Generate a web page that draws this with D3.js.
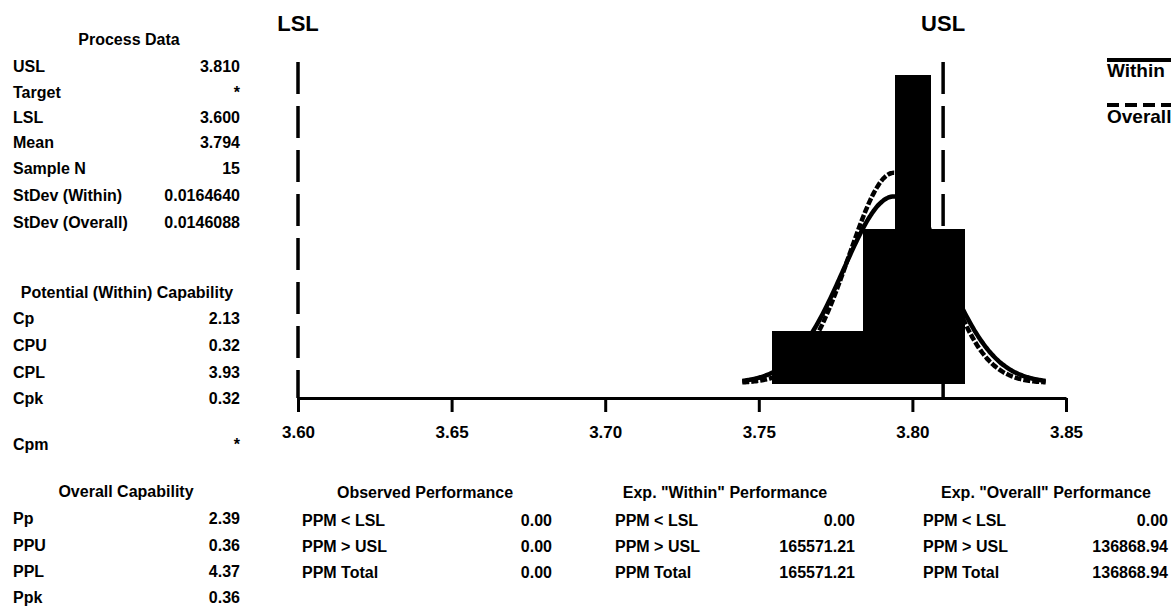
<!DOCTYPE html>
<html>
<head>
<meta charset="utf-8">
<script src="https://cdn.jsdelivr.net/npm/d3@7/dist/d3.min.js"></script>
<style>
  html, body { margin: 0; padding: 0; background: #fff; }
  svg { display: block; }
  text { font-family: "Liberation Sans", Arial, sans-serif; font-weight: bold; fill: #000; }
</style>
</head>
<body>
<svg id="chart" width="1171" height="608"></svg>
<script>
// ---------------- data ----------------
const LSL = 3.600;
const USL = 3.810;
const MEAN = 3.794;
const N = 15;
const SD_WITHIN = 0.0164640;
const SD_OVERALL = 0.0146088;

const binEdges = [3.7546, 3.7644, 3.7742, 3.7840, 3.7944, 3.8060, 3.8168];
const binCounts = [1, 1, 1, 3, 6, 3];
const curveBinWidth = 0.01;

const xTicks = [3.60, 3.65, 3.70, 3.75, 3.80, 3.85];

const processLabels = ["USL", "Target", "LSL", "Mean", "Sample N", "StDev (Within)", "StDev (Overall)"];
const processValues = ["3.810", "*", "3.600", "3.794", "15", "0.0164640", "0.0146088"];

const potentialLabels = ["Cp", "CPU", "CPL", "Cpk"];
const potentialValues = ["2.13", "0.32", "3.93", "0.32"];
const cpmLabel = "Cpm";
const cpmValue = "*";

const overallLabels = ["Pp", "PPU", "PPL", "Ppk"];
const overallValues = ["2.39", "0.36", "4.37", "0.36"];

const ppmLabelsObs = ["PPM < LSL", "PPM > USL", "PPM Total"];
const ppmLabelsExp = ["PPM < LSL", "PPM > USL", "PPM Total"];
const observedValues = ["0.00", "0.00", "0.00"];
const expWithinValues = ["0.00", "165571.21", "165571.21"];
const expOverallValues = ["0.00", "136868.94", "136868.94"];

const legendLabels = ["Within", "Overall"];

// ---------------- layout ----------------
const svg = d3.select("#chart");
const axisY = 398;
const plotTop = 62;

const x = d3.scaleLinear().domain([3.60, 3.85]).range([298, 1066]);
const y = d3.scaleLinear().domain([0, 6]).range([383, 75]);

// spec limit lines
const specs = [{v: LSL, t: "LSL"}, {v: USL, t: "USL"}];
svg.selectAll("line.spec").data(specs).join("line")
  .attr("class", "spec")
  .attr("x1", d => x(d.v)).attr("x2", d => x(d.v))
  .attr("y1", plotTop).attr("y2", axisY)
  .attr("stroke", "#000").attr("stroke-width", 3.5)
  .attr("stroke-dasharray", "32,12");
svg.selectAll("text.spec").data(specs).join("text")
  .attr("class", "spec")
  .attr("x", d => x(d.v)).attr("y", 31)
  .attr("text-anchor", "middle")
  .style("font-size", "22px")
  .text(d => d.t);

// normal curves
function normalCurve(sd) {
  const lo = MEAN - 3 * SD_WITHIN, hi = MEAN + 3 * SD_WITHIN;
  return d3.range(0, 201).map(i => {
    const v = lo + (hi - lo) * i / 200;
    const dens = Math.exp(-0.5 * Math.pow((v - MEAN) / sd, 2)) / (sd * Math.sqrt(2 * Math.PI));
    return [v, dens * N * curveBinWidth];
  });
}
const line = d3.line().x(d => x(d[0])).y(d => y(d[1])).curve(d3.curveBasis);
svg.append("path").datum(normalCurve(SD_OVERALL))
  .attr("d", line).attr("fill", "none").attr("stroke", "#000")
  .attr("stroke-width", 4.5).attr("stroke-dasharray", "7,2");
svg.append("path").datum(normalCurve(SD_WITHIN))
  .attr("d", line).attr("fill", "none").attr("stroke", "#000")
  .attr("stroke-width", 4.5);

// histogram
const bins = binCounts.map((c, i) => ({x0: binEdges[i], x1: binEdges[i + 1], c}));
svg.selectAll("rect.bar").data(bins).join("rect")
  .attr("class", "bar")
  .attr("x", d => x(d.x0))
  .attr("width", d => x(d.x1) - x(d.x0))
  .attr("y", d => y(d.c))
  .attr("height", d => y(0) - y(d.c))
  .attr("fill", "#000").attr("stroke", "#000").attr("stroke-width", 1)
  .attr("shape-rendering", "crispEdges");

// x axis
const xAxis = d3.axisBottom(x).tickValues(xTicks).tickFormat(d3.format(".2f"))
  .tickSize(14).tickSizeOuter(0).tickPadding(14);
const gx = svg.append("g").attr("transform", `translate(0,${axisY})`).call(xAxis);
gx.select(".domain").attr("stroke-width", 3);
gx.selectAll(".tick line").attr("stroke-width", 3);
gx.selectAll(".tick text").style("font-size", "17px")
  .style("font-family", "'Liberation Sans', Arial, sans-serif").style("font-weight", "bold");

// legend
const legendX = 1107;
svg.append("line").attr("x1", legendX).attr("x2", 1171).attr("y1", 60).attr("y2", 60)
  .attr("stroke", "#000").attr("stroke-width", 4);
svg.append("text").attr("x", legendX).attr("y", 77).style("font-size", "19px").text(legendLabels[0]);
svg.append("line").attr("x1", legendX).attr("x2", 1171).attr("y1", 105).attr("y2", 105)
  .attr("stroke", "#000").attr("stroke-width", 4).attr("stroke-dasharray", "12,6");
svg.append("text").attr("x", legendX).attr("y", 123).style("font-size", "19px").text(legendLabels[1]);

// ---------------- text tables ----------------
const fs = "16px";
function header(txt, cx, cy) {
  svg.append("text").attr("x", cx).attr("y", cy).attr("dy", "0.35em")
    .attr("text-anchor", "middle").style("font-size", fs).text(txt);
}
function rows(labels, values, lx, vx, ys) {
  labels.forEach((l, i) => {
    svg.append("text").attr("x", lx).attr("y", ys[i]).attr("dy", "0.35em")
      .style("font-size", fs).text(l);
    svg.append("text").attr("x", vx).attr("y", ys[i]).attr("dy", "0.35em")
      .attr("text-anchor", "end").style("font-size", fs).text(values[i]);
  });
}

header("Process Data", 129, 39);
rows(processLabels, processValues, 13, 240, [66, 92, 117, 142, 168, 195, 222]);

header("Potential (Within) Capability", 127, 292);
rows(potentialLabels, potentialValues, 13, 240, [318, 345, 372, 398]);
rows([cpmLabel], [cpmValue], 13, 240, [444]);

header("Overall Capability", 126, 491);
rows(overallLabels, overallValues, 13, 240, [518, 545, 571, 597]);

const tableY = [520, 546, 572];
header("Observed Performance", 425, 492);
rows(ppmLabelsObs, observedValues, 302, 552, tableY);

header('Exp. "Within" Performance', 725, 492);
rows(ppmLabelsExp, expWithinValues, 615, 855, tableY);

header('Exp. "Overall" Performance', 1046, 492);
rows(ppmLabelsExp, expOverallValues, 923, 1168, tableY);
</script>
</body>
</html>
